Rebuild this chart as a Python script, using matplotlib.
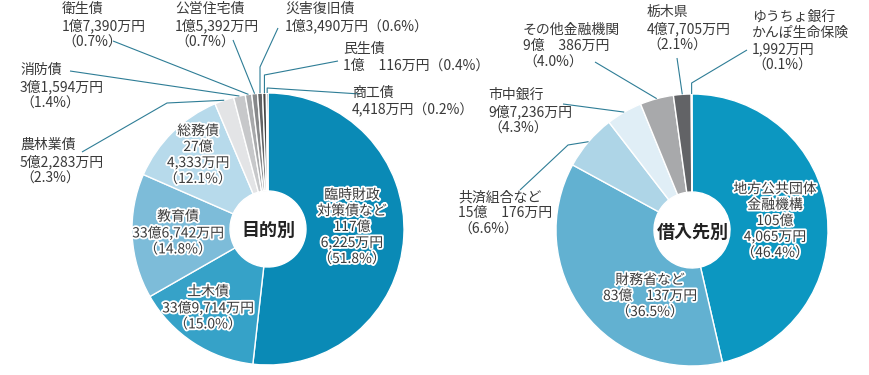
import numpy as np
import matplotlib
matplotlib.use("Agg")
import matplotlib.pyplot as plt
import matplotlib.patheffects as pe

plt.rcParams['font.family'] = ['Noto Sans CJK JP', 'DejaVu Sans']

W, H = 870, 375

# --- 目的別 (values in 万円) ---
purpose_names = ['臨時財政\n対策債など', '土木債', '教育債', '総務債', '農林業債', '消防債',
                 '衛生債', '公営住宅債', '災害復旧債', '民生債', '商工債']
purpose_values = [1176225, 339714, 336742, 274333, 52283, 31594, 17390, 15392, 13490, 10116, 4418]
purpose_amounts = ['117億\n6,225万円', '33億9,714万円', '33億6,742万円', '27億\n4,333万円',
                   '5億2,283万円', '3億1,594万円', '1億7,390万円', '1億5,392万円',
                   '1億3,490万円', '1億\u3000116万円', '4,418万円']
purpose_pct = ['51.8%', '15.0%', '14.8%', '12.1%', '2.3%', '1.4%', '0.7%', '0.7%', '0.6%', '0.4%', '0.2%']
purpose_colors = ['#0a8ab6', '#36a2c8', '#7dbcd9', '#b7daeb', '#e3e4e6', '#c7c8ca',
                  '#a8a9ab', '#87888a', '#636466', '#454546', '#232323']

# --- 借入先別 (values in 万円) ---
lender_names = ['地方公共団体\n金融機構', '財務省など', '共済組合など', '市中銀行',
                'その他金融機関', '栃木県', 'ゆうちょ銀行\nかんぽ生命保険']
lender_values = [1054065, 830137, 150176, 97236, 90386, 47705, 1992]
lender_amounts = ['105億\n4,065万円', '83億\u3000137万円', '15億\u3000176万円', '9億7,236万円',
                  '9億\u3000386万円', '4億7,705万円', '1,992万円']
lender_pct = ['46.4%', '36.5%', '6.6%', '4.3%', '4.0%', '2.1%', '0.1%']
lender_colors = ['#0c97c1', '#62b1d1', '#aed5e7', '#e0eef6', '#a8a9ab', '#626366', '#2b2b2b']

TXT = '#3a3a3a'
LEAD = '#2e7d96'
FS = 10

fig = plt.figure(figsize=(W / 100, H / 100), dpi=100)
ax = fig.add_axes([0, 0, 1, 1])


def py(y):
    # pixel-from-top -> data y
    return H - y


def donut(values, colors, cx, cy, r, hole):
    wedges, _ = ax.pie(values, colors=colors, startangle=90, counterclock=False,
                       center=(cx, py(cy)), radius=r, frame=True,
                       wedgeprops=dict(width=r - hole, edgecolor='white', linewidth=1))
    return wedges


def edge_point(w, r):
    a = np.deg2rad((w.theta1 + w.theta2) / 2)
    return w.center[0] + r * np.cos(a), w.center[1] + r * np.sin(a)


halo = [pe.withStroke(linewidth=2.6, foreground='white')]


def inner(x, y, s):
    ax.text(x, py(y), s, ha='center', va='center', fontsize=FS, color=TXT,
            linespacing=1.18, path_effects=halo)


def outer(x, y, s, ha='left'):
    ax.text(x, py(y), s, ha=ha, va='top', fontsize=FS, color=TXT, linespacing=1.2)


def leader(w, r, pts):
    ex, ey = edge_point(w, r)
    xs = [p[0] for p in pts] + [ex]
    ys = [py(p[1]) for p in pts] + [ey]
    ax.plot(xs, ys, color=LEAD, lw=0.8, solid_capstyle='butt')


# left donut
R1 = 136
lw_ = donut(purpose_values, purpose_colors, 268, 229, R1, 38)
ax.text(268, py(230), '目的別', ha='center', va='center', fontsize=13,
        fontweight='bold', color='#222222')

inner(352, 227, f'{purpose_names[0]}\n{purpose_amounts[0]}\n（{purpose_pct[0]}）')
inner(208, 308, f'{purpose_names[1]}\n{purpose_amounts[1]}\n（{purpose_pct[1]}）')
inner(178, 233, f'{purpose_names[2]}\n{purpose_amounts[2]}\n（{purpose_pct[2]}）')
inner(198, 155, f'{purpose_names[3]}\n{purpose_amounts[3]}\n（{purpose_pct[3]}）')

outer(20, 138, f'{purpose_names[4]}\n{purpose_amounts[4]}\n（{purpose_pct[4]}）')
leader(lw_[4], R1, [(82, 152), (167, 103)])
outer(20, 63, f'{purpose_names[5]}\n{purpose_amounts[5]}\n（{purpose_pct[5]}）')
leader(lw_[5], R1, [(70, 71)])
outer(62, 2, f'{purpose_names[6]}\n{purpose_amounts[6]}\n（{purpose_pct[6]}）')
leader(lw_[6], R1, [(113, 41)])
outer(175, 2, f'{purpose_names[7]}\n{purpose_amounts[7]}\n（{purpose_pct[7]}）')
leader(lw_[7], R1, [(233, 40)])
outer(285, 2, f'{purpose_names[8]}\n{purpose_amounts[8]}（{purpose_pct[8]}）')
ex = edge_point(lw_[8], R1)[0]
leader(lw_[8], R1, [(278, 28), (ex, 67)])
outer(343, 42, f'{purpose_names[9]}\n{purpose_amounts[9]}（{purpose_pct[9]}）')
ex = edge_point(lw_[9], R1)[0]
leader(lw_[9], R1, [(338, 61), (ex, 75)])
outer(352, 86, f'{purpose_names[10]}\n{purpose_amounts[10]}（{purpose_pct[10]}）')
ex = edge_point(lw_[10], R1)[0]
leader(lw_[10], R1, [(360, 94), (ex, 88)])

# right donut
R2 = 136
rw = donut(lender_values, lender_colors, 692, 230, R2, 38)
ax.text(693, py(232), '借入先別', ha='center', va='center', fontsize=13,
        fontweight='bold', color='#222222')

inner(775, 221, f'{lender_names[0]}\n{lender_amounts[0]}\n（{lender_pct[0]}）')
inner(650, 296, f'{lender_names[1]}\n{lender_amounts[1]}\n（{lender_pct[1]}）')

outer(458, 190, f'{lender_names[2]}\n{lender_amounts[2]}\n（{lender_pct[2]}）')
leader(rw[2], R2, [(520, 190), (568, 145)])
outer(488, 88, f'{lender_names[3]}\n{lender_amounts[3]}\n（{lender_pct[3]}）')
leader(rw[3], R2, [(563, 104)])
outer(523, 23, f'{lender_names[4]}\n{lender_amounts[4]}\n（{lender_pct[4]}）')
leader(rw[4], R2, [(595, 62)])
outer(647, 5, f'{lender_names[5]}\n{lender_amounts[5]}\n（{lender_pct[5]}）')
leader(rw[5], R2, [(677, 58)])
outer(752, 10, f'{lender_names[6]}\n{lender_amounts[6]}\n（{lender_pct[6]}）')
ex = edge_point(rw[6], R2)[0]
leader(rw[6], R2, [(747, 50), (ex, 83)])

ax.set_xlim(0, W)
ax.set_ylim(0, H)
ax.set_aspect('equal')
ax.axis('off')

fig.savefig('out.png', dpi=100, facecolor='white')
